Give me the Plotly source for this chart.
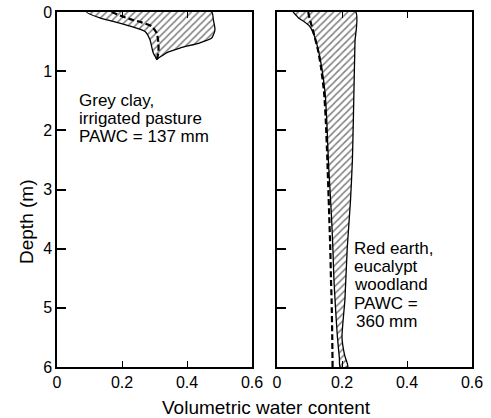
import plotly.graph_objects as go

# ---------------- data ----------------
# Left panel: Grey clay, irrigated pasture
clay_min_depth = [0, 0.1, 0.16, 0.24, 0.33, 0.47, 0.69, 0.8]
clay_min_theta = [0.091, 0.132, 0.173, 0.225, 0.271, 0.286, 0.296, 0.307]
clay_max_depth = [0, 0.13, 0.3, 0.44, 0.52, 0.61, 0.69, 0.78, 0.8]
clay_max_theta = [0.476, 0.481, 0.486, 0.476, 0.44, 0.378, 0.337, 0.312, 0.307]
clay_ll_depth = [0, 0.06, 0.12, 0.175, 0.24, 0.36, 0.525, 0.69, 0.8]
clay_ll_theta = [0.168, 0.194, 0.225, 0.26, 0.291, 0.307, 0.312, 0.312, 0.307]

# Right panel: Red earth, eucalypt woodland
red_min_depth = [0, 0.05, 0.1, 0.17, 0.24, 0.36, 0.64, 0.92, 1.37, 1.82, 2.5, 3.0,
                 3.5, 4.0, 4.5, 5.0, 5.5, 5.85, 6.0]
red_min_theta = [0.05, 0.058, 0.066, 0.085, 0.10, 0.112, 0.127, 0.137, 0.148, 0.153,
                 0.158, 0.163, 0.168, 0.172, 0.175, 0.180, 0.186, 0.192, 0.194]
red_max_depth = [0, 0.5, 1.0, 1.8, 2.5, 3.2, 4.0, 4.86, 5.5, 5.8, 6.0]
red_max_theta = [0.242, 0.240, 0.238, 0.235, 0.232, 0.226, 0.216, 0.209, 0.200, 0.208, 0.218]
red_ll_depth = [0, 0.1, 0.24, 0.36, 0.64, 0.92, 1.37, 1.82, 2.5, 3.0, 3.5, 4.0, 4.5,
                4.86, 5.5, 6.0]
red_ll_theta = [0.096, 0.10, 0.107, 0.113, 0.126, 0.135, 0.145, 0.150, 0.155, 0.158,
                0.161, 0.164, 0.166, 0.168, 0.170, 0.171]

x_tickvals = [0, 0.2, 0.4, 0.6]
x_ticktext = ["0", "0.2", "0.4", "0.6"]
y_tickvals = [0, 1, 2, 3, 4, 5, 6]
y_ticktext = ["0", "1", "2", "3", "4", "5", "6"]

clay_label = ["Grey clay,", "irrigated pasture", "PAWC = 137 mm"]
red_label = ["Red earth,", "eucalypt", "woodland", "PAWC =", "360 mm"]

FONT = "Liberation Sans, Arial, Helvetica, sans-serif"

fig = go.Figure()


def envelope(xa, ya, min_t, min_d, max_t, max_d, ll_t, ll_d):
    px = list(min_t) + list(max_t)[::-1]
    py = list(min_d) + list(max_d)[::-1]
    px.append(px[0])
    py.append(py[0])
    fig.add_trace(go.Scatter(
        x=px, y=py, xaxis=xa, yaxis=ya, mode="lines", fill="toself",
        fillcolor="white",
        fillpattern=dict(shape="/", fgcolor="black", bgcolor="white", size=5, solidity=0.3),
        line=dict(color="black", width=1.3, shape="spline", smoothing=0.6),
        hoverinfo="skip", showlegend=False))
    fig.add_trace(go.Scatter(
        x=ll_t, y=ll_d, xaxis=xa, yaxis=ya, mode="lines",
        line=dict(color="black", width=2.2, dash="6px,3px", shape="spline", smoothing=0.6),
        hoverinfo="skip", showlegend=False))


envelope("x", "y", clay_min_theta, clay_min_depth, clay_max_theta, clay_max_depth,
         clay_ll_theta, clay_ll_depth)
envelope("x2", "y2", red_min_theta, red_min_depth, red_max_theta, red_max_depth,
         red_ll_theta, red_ll_depth)

xcommon = dict(range=[0, 0.6], tickvals=x_tickvals, ticktext=x_ticktext,
               ticks="inside", ticklen=6, tickwidth=1.3, tickcolor="black",
               showline=True, linecolor="black", linewidth=1.5, mirror="ticks",
               showgrid=False, zeroline=False, automargin=False,
               tickfont=dict(family=FONT, size=16, color="black"))
ycommon = dict(range=[6, 0], tickvals=y_tickvals, ticktext=y_ticktext,
               ticks="inside", ticklen=9, tickwidth=1.5, tickcolor="black",
               showline=True, linecolor="black", linewidth=1.5, mirror=True,
               showgrid=False, zeroline=False, automargin=False,
               tickfont=dict(family=FONT, size=16, color="black"))

fig.update_layout(
    width=491, height=418,
    margin=dict(l=57, r=19, t=12, b=51),
    paper_bgcolor="white", plot_bgcolor="white",
    xaxis=dict(domain=[0, 195 / 415], anchor="y", **xcommon),
    yaxis=dict(domain=[0, 1], anchor="x", **ycommon),
    xaxis2=dict(domain=[220 / 415, 1], anchor="y2", **xcommon),
    yaxis2=dict(domain=[0, 1], anchor="x2", showticklabels=False,
                **{k: v for k, v in ycommon.items() if k not in ("tickfont",)}),
    font=dict(family=FONT, color="black"),
    hovermode=False,
)

ann = []
for i, t in enumerate(clay_label):
    ann.append(dict(x=0.063, y=1.50 + 0.305 * i, xref="x", yref="y", text=t,
                    showarrow=False, xanchor="left", yanchor="middle",
                    font=dict(family=FONT, size=17, color="black")))
for i, t in enumerate(red_label):
    ann.append(dict(x=0.232 if i < 4 else 0.238, y=3.99 + 0.31 * i, xref="x2", yref="y2",
                    text=t, showarrow=False, xanchor="left", yanchor="middle",
                    font=dict(family=FONT, size=17, color="black")))
ann.append(dict(x=(266 - 57) / 415, y=(367 - 407) / 355, xref="paper", yref="paper",
                text="Volumetric water content", showarrow=False,
                xanchor="center", yanchor="middle",
                font=dict(family=FONT, size=19, color="black")))
ann.append(dict(x=(26 - 57) / 415, y=(367 - 222) / 355, xref="paper", yref="paper",
                text="Depth (m)", textangle=-90, showarrow=False,
                xanchor="center", yanchor="middle",
                font=dict(family=FONT, size=19, color="black")))
fig.update_layout(annotations=ann)

fig.write_html("out.html", config={"displayModeBar": False},
               post_script="document.body.style.margin='0';")
